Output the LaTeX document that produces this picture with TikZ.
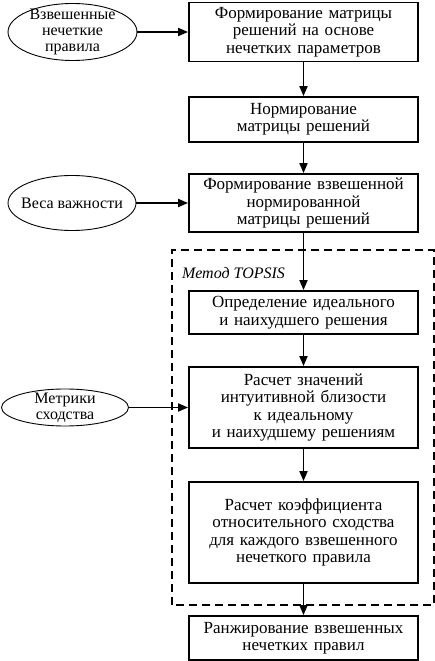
\documentclass[tikz,border=0pt]{standalone}
\usepackage{fontspec}
\setmainfont{Liberation Serif}
\usetikzlibrary{arrows.meta}
\usetikzlibrary{shapes.geometric}

\begin{document}
\begin{tikzpicture}[x = 1pt, y = 1pt,
    stage/.style = {draw, line width = 1.8pt, minimum width = 229pt, text width = 227pt, align = center, inner sep = 0pt, font = \fontsize{17}{17.5}\selectfont},
    source/.style = {draw, ellipse, line width = 0.9pt, inner sep = 0pt},
    source text/.style = {align = center, inner sep = 0pt, font = \fontsize{16}{16}\selectfont},
    flow/.style = {line width = 1.8pt, -{Triangle[length = 10pt, width = 8pt]}}]%
    \useasboundingbox (0, 0) rectangle (435, 661);

    % main chain
    \node[stage, minimum height = 59pt] (build) at (303.5, 629) {Формирование матрицы\\решений на основе\\нечетких параметров};
    \node[stage, minimum height = 45pt] (norm) at (303.5, 541.5) {Нормирование\\матрицы решений};
    \node[stage, minimum height = 58pt] (weigh) at (303.5, 458) {Формирование взвешенной\\нормированной\\матрицы решений};
    \node[stage, minimum height = 43pt] (ideal) at (303.5, 348.5) {Определение идеального\\и наихудшего решения};
    \node[stage, minimum height = 81pt] (close) at (303.5, 253.5) {Расчет значений\\интуитивной близости\\к идеальному\\и наихудшему решениям};
    \node[stage, minimum height = 101pt] (coef) at (303.5, 128.5) {Расчет коэффициента\\относительного сходства\\для каждого взвешенного\\нечеткого правила};
    \node[stage, minimum height = 44pt] (rank) at (303.5, 23) {Ранжирование взвешенных\\нечетких правил};

    % inputs
    \node[source, minimum width = 129pt, minimum height = 57pt, label = {[source text]center:Взвешенные\\нечеткие\\правила}] (rules) at (72.5, 629) {};
    \node[source, minimum width = 128pt, minimum height = 55pt, label = {[source text]center:Веса важности}] (weights) at (72, 458) {};
    \node[source, minimum width = 127pt, minimum height = 37pt, label = {[source text]center:Метрики\\сходства}] (metrics) at (65, 253.5) {};

    % TOPSIS frame
    \draw[line width = 1.8pt, dash pattern = on 8pt off 5pt] (172, 56) rectangle (434, 411);
    \node[anchor = west, inner sep = 0pt, font = \fontsize{16}{16}\selectfont\itshape] (topsis) at (182, 388) {Метод TOPSIS};

    \draw[flow] (build) -- (norm);
    \draw[flow] (norm) -- (weigh);
    \draw[flow] (weigh) -- (ideal);
    \draw[flow] (ideal) -- (close);
    \draw[flow] (close) -- (coef);
    \draw[flow] (coef) -- (rank);

    \draw[flow] (rules) -- (build);
    \draw[flow] (weights) -- (weigh);
    \draw[flow] (metrics) -- (close);
\end{tikzpicture}
\end{document}
